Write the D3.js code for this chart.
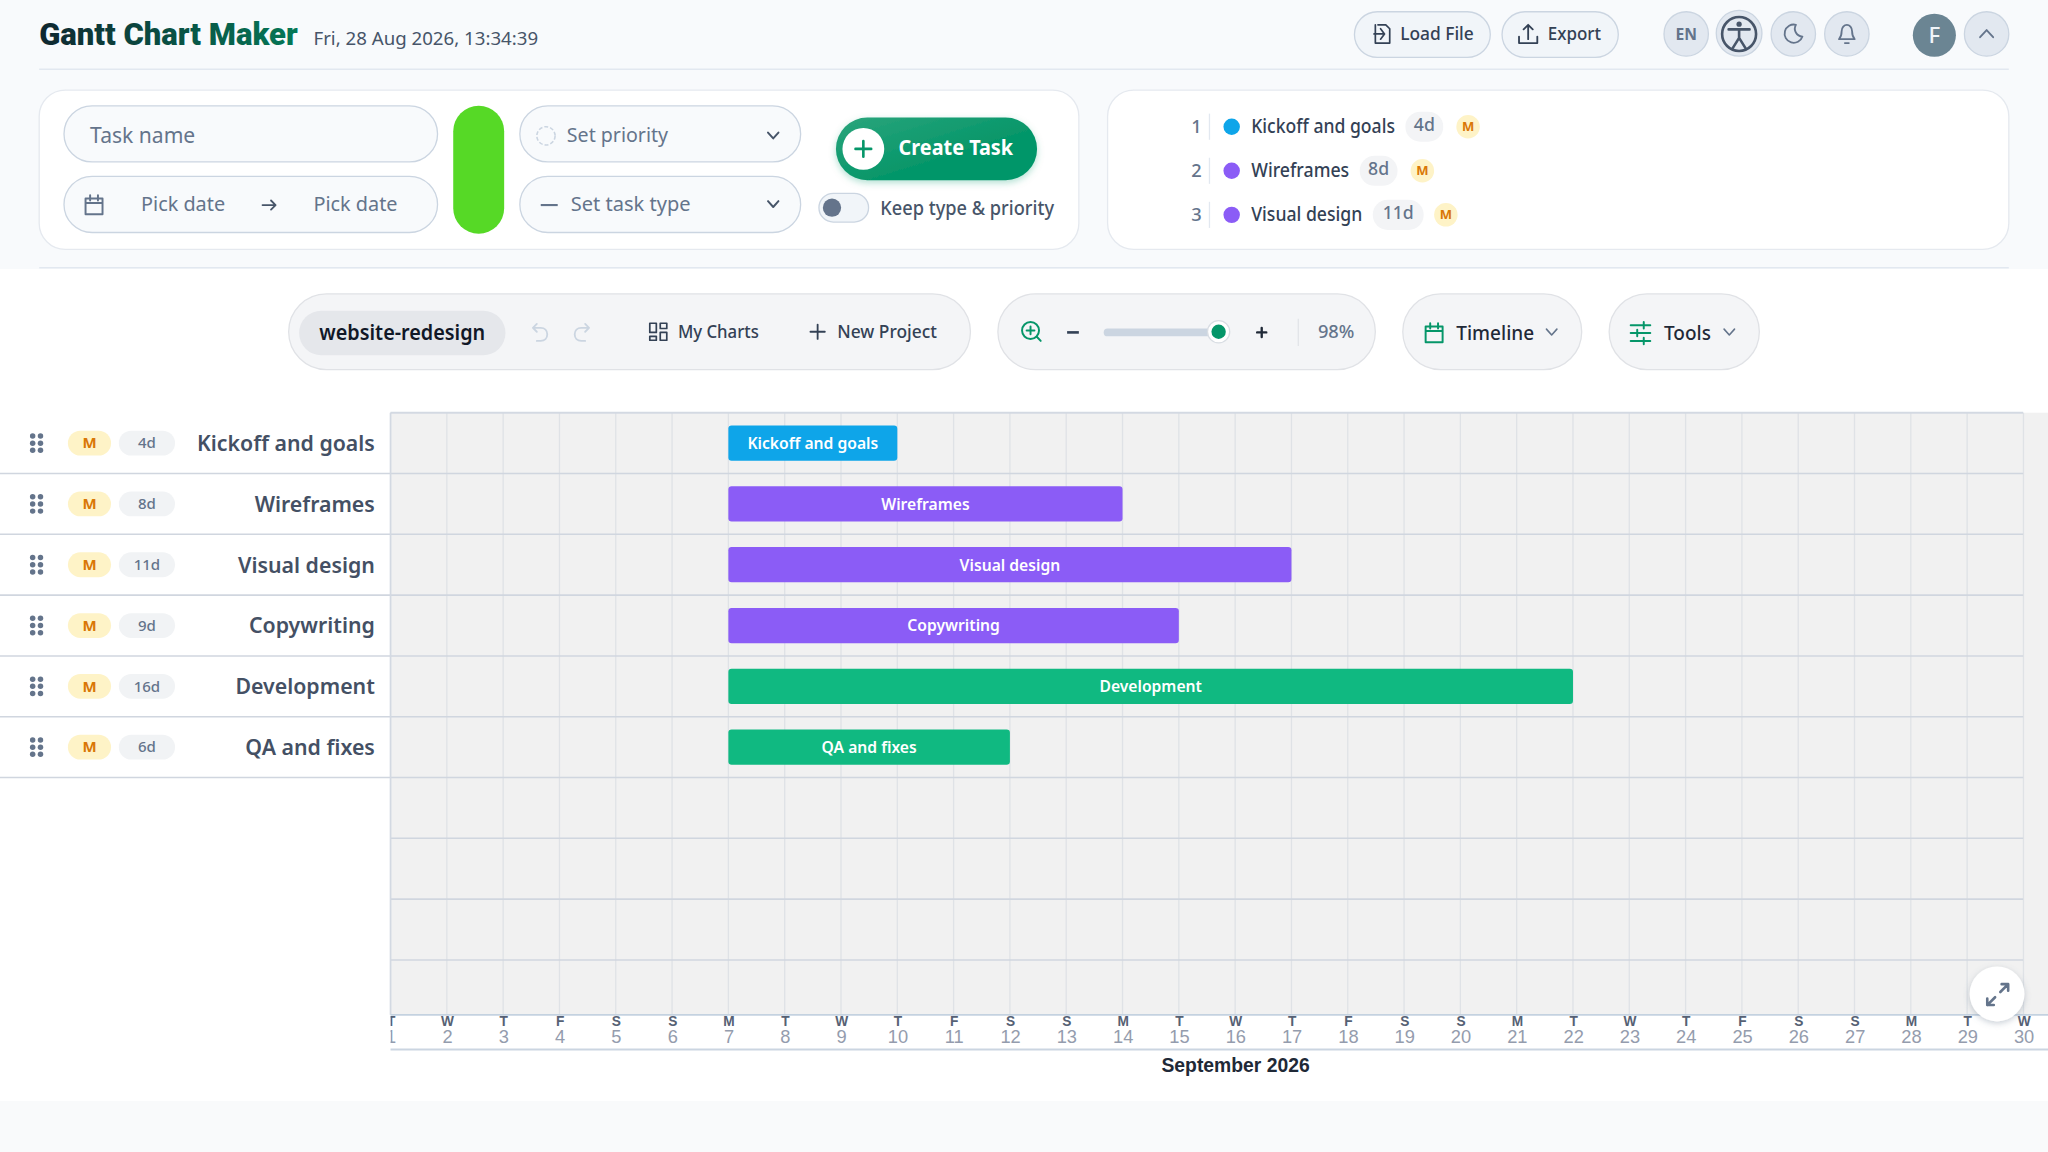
<!DOCTYPE html>
<html>
<head>
<meta charset="utf-8">
<title>Gantt Chart Maker</title>
<script src="https://cdn.jsdelivr.net/npm/d3@7/dist/d3.min.js"></script>
<style>
  html, body { margin: 0; padding: 0; background: #fff; overflow: hidden; }
  svg { display: block; }
  text { font-family: "Noto Sans", sans-serif; }
  .axis path, .axis line { display: none; }
  .axis text { font-family: "Liberation Sans", Arial, sans-serif; }
</style>
</head>
<body>
<svg id="page" width="2048" height="1152" viewBox="0 0 1568 882"></svg>
<script>
// chart data
var taskNames = ["Kickoff and goals", "Wireframes", "Visual design", "Copywriting", "Development", "QA and fixes"];
var taskDays = [4, 8, 11, 9, 16, 6];
var taskStart = [7, 7, 7, 7, 7, 7];
var taskType = ["planning", "design", "design", "design", "build", "build"];
var taskPriority = ["M", "M", "M", "M", "M", "M"];
var dayLetters = ["T","W","T","F","S","S","M","T","W","T","F","S","S","M","T","W","T","F","S","S","M","T","W","T","F","S","S","M","T","W"];
var dayNumbers = d3.range(1, 31);
var monthLabel = "September 2026";
var rowSlots = d3.range(0, 10);

var svg = d3.select("#page");

var typeColor = d3.scaleOrdinal()
  .domain(["planning", "design", "build"])
  .range(["#0ea5e9", "#8b5cf6", "#10b981"]);

var x = d3.scaleLinear().domain([1, 30]).range([299, 1549.2]);
var y = d3.scaleLinear().domain([0, 10]).range([316, 781.5]);

var defs = svg.append("defs");
var grad = defs.append("linearGradient").attr("id", "createGrad").attr("x1", 0).attr("x2", 1).attr("y1", 0).attr("y2", 1);
grad.append("stop").attr("offset", "0%").attr("stop-color", "#2ba57c");
grad.append("stop").attr("offset", "60%").attr("stop-color", "#059669");
var titleGrad = defs.append("linearGradient").attr("id", "titleGrad").attr("x1", 0).attr("x2", 1).attr("y1", 0).attr("y2", 0);
titleGrad.append("stop").attr("offset", "0%").attr("stop-color", "#0f2730");
titleGrad.append("stop").attr("offset", "100%").attr("stop-color", "#047857");
var shadow = defs.append("filter").attr("id", "soft").attr("x", "-30%").attr("y", "-30%").attr("width", "160%").attr("height", "160%");
shadow.append("feDropShadow").attr("dx", 0).attr("dy", 1.5).attr("stdDeviation", 2.5).attr("flood-color", "#64748b").attr("flood-opacity", 0.35);
var greenShadow = defs.append("filter").attr("id", "softGreen").attr("x", "-20%").attr("y", "-30%").attr("width", "140%").attr("height", "170%");
greenShadow.append("feDropShadow").attr("dx", 0).attr("dy", 2).attr("stdDeviation", 3).attr("flood-color", "#059669").attr("flood-opacity", 0.3);
defs.append("clipPath").attr("id", "axisClip").append("rect").attr("x", 299).attr("y", 770).attr("width", 1269).attr("height", 40);

function pill(x0, y0, x1, y1, fill, stroke, r) {
  return svg.append("rect").attr("x", x0).attr("y", y0).attr("width", x1 - x0).attr("height", y1 - y0)
    .attr("rx", r === undefined ? (y1 - y0) / 2 : r)
    .attr("fill", fill).attr("stroke", stroke || "none").attr("stroke-width", stroke ? 1 : 0);
}
function label(str, px, py, size, color, weight, anchor) {
  return svg.append("text").attr("x", px).attr("y", py).text(str)
    .attr("font-size", size).attr("fill", color).attr("font-weight", weight || 400)
    .attr("text-anchor", anchor || "start");
}
// the original face (IBM Plex like) runs a bit narrower than Noto
function squeeze(sel, k) {
  sel.each(function() {
    d3.select(this).attr("textLength", this.getComputedTextLength() * k).attr("lengthAdjust", "spacingAndGlyphs");
  });
  return sel;
}
function icon(d, color, width, tx, ty) {
  return svg.append("path").attr("d", d).attr("fill", "none").attr("stroke", color)
    .attr("stroke-width", width || 1.5).attr("stroke-linecap", "round").attr("stroke-linejoin", "round")
    .attr("transform", "translate(" + tx + "," + ty + ")");
}
function hline(x0, x1, yy, color, w) {
  svg.append("line").attr("x1", x0).attr("x2", x1).attr("y1", yy).attr("y2", yy).attr("stroke", color).attr("stroke-width", w || 1);
}
function chevron(px, py, color, w) { icon("M-4,-2.5L0,2L4,-2.5", color, w || 1.5, px, py); }
function calendarIcon(px, py, color) { icon("M-6.5,-5H6.5V7H-6.5ZM-6.5,-1.5H6.5M-3,-7.5V-3.5M3,-7.5V-3.5", color, 1.5, px, py); }

// page backgrounds
pill(0, 0, 1568, 206, "#f8fafc", null, 0);
pill(0, 206, 1568, 843, "#ffffff", null, 0);
pill(0, 843, 1568, 882, "#f9fafb", null, 0);

// header
label("Gantt Chart Maker", 30, 34.5, 24.5, "url(#titleGrad)", 900).style("font-family", "Roboto, sans-serif")
  .attr("textLength", 198).attr("lengthAdjust", "spacingAndGlyphs");
label("Fri, 28 Aug 2026, 13:34:39", 240, 34.5, 13.5, "#475569").attr("textLength", 172).attr("lengthAdjust", "spacingAndGlyphs");
hline(30, 1538, 53, "#e2e8f0", 1.2);

pill(1037, 9, 1141, 44, "#f1f5f9", "#cbd5e1");
icon("M-3,-7H3L6,-4V7H-5V-7M-1,-4L2,0L-1,4M-6,0H2", "#334155", 1.3, 1058, 26);
squeeze(label("Load File", 1072, 31, 14, "#334155", 500), 0.95);
pill(1150, 9, 1239, 44, "#f1f5f9", "#cbd5e1");
icon("M-7,2V7H7V2M0,4V-7M-3.5,-3.5L0,-7L3.5,-3.5", "#334155", 1.4, 1170, 26);
squeeze(label("Export", 1185, 31, 14, "#334155", 500), 0.93);

pill(1274, 9, 1308, 43, "#e2e8f0", "#cbd5e1");
label("EN", 1291, 31, 12, "#64748b", 700, "middle");
pill(1314, 8, 1349, 43, "#e2e8f0", "#cbd5e1");
svg.append("circle").attr("cx", 1331.5).attr("cy", 26).attr("r", 13).attr("fill", "none").attr("stroke", "#475569").attr("stroke-width", 2);
svg.append("circle").attr("cx", 1331.5).attr("cy", 18.5).attr("r", 2).attr("fill", "#475569");
icon("M-8,-3.5H8M0,-3.5V3M0,3L-5,11M0,3L5,11", "#475569", 2, 1331.5, 26);
pill(1356, 9, 1390, 43, "#e2e8f0", "#cbd5e1");
icon("M2,-7A7,7 0 1 0 7,2A6,6 0 0 1 2,-7Z", "#64748b", 1.4, 1373, 26);
pill(1397, 9, 1431, 43, "#e2e8f0", "#cbd5e1");
icon("M-6,4C-4,2 -4,0 -4,-2C-4,-5 -2,-7 0,-7C2,-7 4,-5 4,-2C4,0 4,2 6,4ZM-1.5,7H1.5", "#64748b", 1.4, 1414, 26);
svg.append("circle").attr("cx", 1481).attr("cy", 27).attr("r", 16.5).attr("fill", "#6b8593");
label("F", 1481, 33, 17, "#f1f5f9", 500, "middle");
pill(1504, 9, 1538, 43, "#e2e8f0", "#cbd5e1");
icon("M-5,2.5L0,-3L5,2.5", "#64748b", 1.4, 1521, 26);

// create task form
pill(30, 69, 826, 191, "#ffffff", "#e5e9ef", 20);
pill(848, 69, 1538, 191, "#ffffff", "#e5e9ef", 20);

pill(49, 81, 335, 124, "#f8fafc", "#cbd5e1");
squeeze(label("Task name", 69, 109.5, 17, "#64748b"), 0.95);
pill(49, 135, 335, 178, "#f8fafc", "#cbd5e1");
calendarIcon(72, 157, "#64748b");
squeeze(label("Pick date", 108, 161.5, 15.5, "#64748b"), 0.98);
icon("M-5,0H5M1.5,-3.5L5,0L1.5,3.5", "#475569", 1.4, 206, 157);
squeeze(label("Pick date", 240, 161.5, 15.5, "#64748b"), 0.98);
pill(347, 81, 386, 179, "#56d926", null, 19.5);
pill(398, 81, 613, 124, "#f8fafc", "#cbd5e1");
svg.append("circle").attr("cx", 418).attr("cy", 104).attr("r", 7).attr("fill", "none").attr("stroke", "#cbd5e1").attr("stroke-width", 1.2).attr("stroke-dasharray", "3 1.5");
label("Set priority", 434, 109, 15, "#64748b");
chevron(592, 104, "#475569");
pill(398, 135, 613, 178, "#f8fafc", "#cbd5e1");
hline(414, 427, 157, "#64748b", 1.6);
squeeze(label("Set task type", 437, 161.5, 15.5, "#64748b"), 0.99);
chevron(592, 156.5, "#475569");

pill(640, 90, 794, 138, "url(#createGrad)", null).attr("filter", "url(#softGreen)");
svg.append("circle").attr("cx", 661).attr("cy", 114).attr("r", 16).attr("fill", "#ffffff");
icon("M-6,0H6M0,-6V6", "#059669", 2, 661, 114);
squeeze(label("Create Task", 688, 119, 16, "#ffffff", 700), 0.95);

pill(627, 148, 665, 170, "#f1f5f9", "#cbd5e1");
svg.append("circle").attr("cx", 637).attr("cy", 159).attr("r", 7).attr("fill", "#64748b");
label("Keep type & priority", 674, 164.5, 14.5, "#475569", 500).attr("textLength", 133).attr("lengthAdjust", "spacingAndGlyphs");

// first tasks in the side list
var listText = [958, 958, 958];
var listTextEnd = [1068, 1033, 1043];
var listY = d3.scaleLinear().domain([0, 2]).range([97, 164.5]);
d3.range(3).forEach(function(i) {
  var yy = listY(i);
  label(i + 1, 920, yy + 4.5, 14, "#64748b", 500, "end");
  svg.append("line").attr("x1", 926).attr("x2", 926).attr("y1", yy - 10).attr("y2", yy + 10).attr("stroke", "#e2e8f0");
  svg.append("circle").attr("cx", 943).attr("cy", yy).attr("r", 6.3).attr("fill", typeColor(taskType[i]));
  label(taskNames[i], listText[i], yy + 5, 14.5, "#334155", 500).attr("textLength", listTextEnd[i] - listText[i]).attr("lengthAdjust", "spacingAndGlyphs");
  var durW = taskDays[i] > 9 ? 39 : 29;
  var dx = listTextEnd[i] + 8;
  pill(dx, yy - 11.5, dx + durW, yy + 11.5, "#f3f4f6", null, 11.5);
  squeeze(label(taskDays[i] + "d", dx + durW / 2, yy + 3.5, 13.5, "#64748b", 500, "middle"), 1);
  var mx = dx + durW + 19;
  if (i == 2) mx -= 2;
  svg.append("circle").attr("cx", mx).attr("cy", yy).attr("r", 9).attr("fill", "#fef3c7");
  label(taskPriority[i], mx, yy + 3.5, 10, "#d97706", 700, "middle");
});
hline(30, 1538, 205, "#e2e8f0", 1.2);

// toolbar
pill(221, 225, 743, 283, "#f4f5f7", "#e0e2e6");
pill(229, 238, 387, 272, "#e5e7eb", null);
label("website-redesign", 308, 260, 16.5, "#111827", 600, "middle").attr("textLength", 127).attr("lengthAdjust", "spacingAndGlyphs");
icon("M-5,-4L-2,-7M-5,-4L-2,-1M-5,-4H1C4,-4 6,-2 6,1C6,4 4,6 1,6H-2", "#cbd5e1", 1.4, 413, 255);
icon("M5,-4L2,-7M5,-4L2,-1M5,-4H-1C-4,-4 -6,-2 -6,1C-6,4 -4,6 -1,6H2", "#cbd5e1", 1.4, 446, 255);
icon("M-6.5,-6.5H-1.5V0.5H-6.5ZM1.5,-6.5H6.5V-2.5H1.5ZM1.5,0.5H6.5V6.5H1.5ZM-6.5,3.5H-1.5V6.5H-6.5Z", "#334155", 1.3, 504, 254);
squeeze(label("My Charts", 519, 258.5, 13.5, "#334155", 500), 0.95);
icon("M-5.5,0H5.5M0,-5.5V5.5", "#334155", 1.4, 626, 254);
squeeze(label("New Project", 641, 258.5, 13.5, "#334155", 500), 0.985);

pill(764, 225, 1053, 283, "#f4f5f7", "#e0e2e6");
svg.append("circle").attr("cx", 789).attr("cy", 253).attr("r", 6.5).attr("fill", "none").attr("stroke", "#059669").attr("stroke-width", 1.5);
icon("M-3,0H3M0,-3V3M4.8,4.8L7.8,8", "#059669", 1.5, 789, 253);
hline(817, 826, 254.5, "#334155", 2);
svg.append("rect").attr("x", 845).attr("y", 251.5).attr("width", 88).attr("height", 6).attr("rx", 3).attr("fill", "#cbd5e1");
svg.append("circle").attr("cx", 933).attr("cy", 254).attr("r", 8.5).attr("fill", "#fff").attr("stroke", "#d8dde3");
svg.append("circle").attr("cx", 933).attr("cy", 254).attr("r", 5.5).attr("fill", "#059669");
icon("M-3.5,0H3.5M0,-3.5V3.5", "#1f2937", 1.8, 966, 254.5);
svg.append("line").attr("x1", 994).attr("x2", 994).attr("y1", 244).attr("y2", 265).attr("stroke", "#e2e4e8");
label("98%", 1009, 259, 14, "#64748b", 500);

pill(1074, 225, 1211, 283, "#f4f5f7", "#e0e2e6");
calendarIcon(1098, 255, "#059669");
squeeze(label("Timeline", 1115, 260, 15, "#1f2937", 500), 0.97);
chevron(1188, 254.5, "#64748b", 1.2);

pill(1232, 225, 1347, 283, "#f4f5f7", "#e0e2e6");
icon("M-7.5,-6H7.5M-7.5,0H7.5M-7.5,6H7.5M2.5,-8.5V-3.5M-2.5,-2.5V2.5M2.5,3.5V8.5", "#059669", 1.5, 1256, 255);
squeeze(label("Tools", 1274, 260, 15, "#1f2937", 500), 0.97);
chevron(1324, 254.5, "#64748b", 1.2);

// chart area
svg.append("rect").attr("x", 299).attr("y", 316).attr("width", 1269).attr("height", 461).attr("fill", "#f1f1f1");

svg.append("g").selectAll("line").data(dayNumbers).join("line")
  .attr("x1", function(d) { return x(d); }).attr("x2", function(d) { return x(d); })
  .attr("y1", 316).attr("y2", 777)
  .attr("stroke", "#dfe2e6").attr("stroke-width", 1);

svg.append("g").selectAll("line").data(rowSlots.filter(function(d) { return d < taskNames.length + 4; })).join("line")
  .attr("x1", function(d) { return d <= taskNames.length - 1 ? 0 : 299; }).attr("x2", 1549)
  .attr("y1", function(d) { return y(d + 1); }).attr("y2", function(d) { return y(d + 1); })
  .attr("stroke", "#d0d6df").attr("stroke-width", 1.2);
hline(299, 1549, 316, "#d3d9e2", 1.4);
svg.append("line").attr("x1", 299).attr("x2", 299).attr("y1", 316).attr("y2", 777).attr("stroke", "#d3d9e2").attr("stroke-width", 1.2);

// task rows
var tasks = taskNames.map(function(name, i) {
  return { name: name, days: taskDays[i], start: taskStart[i], type: taskType[i], priority: taskPriority[i], row: i };
});
function rowMid(d) { return y(d.row + 0.5); }

var rows = svg.append("g").selectAll("g").data(tasks).join("g");
[25, 31].forEach(function(gx) {
  [-5.5, 0, 5.5].forEach(function(gy) {
    rows.append("circle").attr("cx", gx).attr("cy", function(d) { return rowMid(d) + gy; }).attr("r", 2.1).attr("fill", "#64748b");
  });
});
rows.append("rect").attr("x", 52).attr("y", function(d) { return rowMid(d) - 9.5; }).attr("width", 33).attr("height", 19).attr("rx", 9.5).attr("fill", "#fef3c7");
rows.append("text").attr("x", 68.5).attr("y", function(d) { return rowMid(d) + 4; }).text(function(d) { return d.priority; })
  .attr("text-anchor", "middle").attr("font-size", 11.5).attr("font-weight", 700).attr("fill", "#d97706");
rows.append("rect").attr("x", 91).attr("y", function(d) { return rowMid(d) - 9.5; }).attr("width", 43).attr("height", 19).attr("rx", 9.5).attr("fill", "#f1f3f5");
rows.append("text").attr("x", 112.5).attr("y", function(d) { return rowMid(d) + 4; }).text(function(d) { return d.days + "d"; })
  .attr("text-anchor", "middle").attr("font-size", 11.5).attr("font-weight", 500).attr("fill", "#64748b");
squeeze(rows.append("text").attr("x", 287).attr("y", function(d) { return rowMid(d) + 6; }).text(function(d) { return d.name; })
  .attr("text-anchor", "end").attr("font-size", 17).attr("font-weight", 600).attr("fill", "#445064"), 0.96);

// bars
var bars = svg.append("g").selectAll("g").data(tasks).join("g");
bars.append("rect")
  .attr("x", function(d) { return x(d.start); })
  .attr("y", function(d) { return rowMid(d) - 13.5; })
  .attr("width", function(d) { return x(d.start + d.days - 1) - x(d.start); })
  .attr("height", 27).attr("rx", 2.5)
  .attr("fill", function(d) { return typeColor(d.type); });
squeeze(bars.append("text")
  .attr("x", function(d) { return (x(d.start) + x(d.start + d.days - 1)) / 2; })
  .attr("y", function(d) { return rowMid(d) + 4.5; })
  .text(function(d) { return d.name; })
  .attr("text-anchor", "middle").attr("font-size", 12.5).attr("font-weight", 600).attr("fill", "#ffffff"), 0.96);

// date axis
svg.append("rect").attr("x", 299).attr("y", 777).attr("width", 1269).attr("height", 26).attr("fill", "#ffffff");
hline(299, 1568, 777, "#c4d2e0", 1.2);
hline(299, 1568, 803.5, "#cbd5e1", 1.5);

var axisGroup = svg.append("g").attr("clip-path", "url(#axisClip)");
var letterAxis = d3.axisBottom(x).tickValues(dayNumbers).tickSize(0).tickPadding(0)
  .tickFormat(function(d) { return dayLetters[d - 1]; });
axisGroup.append("g").attr("class", "axis").attr("transform", "translate(0,778)").call(letterAxis)
  .selectAll("text").attr("font-size", 10.5).attr("font-weight", 700).attr("fill", "#566174");
var numberAxis = d3.axisBottom(x).tickValues(dayNumbers).tickSize(0).tickPadding(0)
  .tickFormat(function(d) { return d; });
axisGroup.append("g").attr("class", "axis").attr("transform", "translate(0,788.5)").call(numberAxis)
  .selectAll("text").attr("font-size", 14).attr("fill", "#949cad");

label(monthLabel, 946, 820.5, 14.8, "#1f2937", 700, "middle").style("font-family", '"Liberation Sans", Arial, sans-serif');

// expand button
svg.append("circle").attr("cx", 1529).attr("cy", 761).attr("r", 21).attr("fill", "#ffffff").attr("filter", "url(#soft)");
icon("M2,-2L8,-8M3,-8H8V-3M-2,2L-8,8M-3,8H-8V3", "#64748b", 2, 1529.5, 761.5);
</script>
</body>
</html>
